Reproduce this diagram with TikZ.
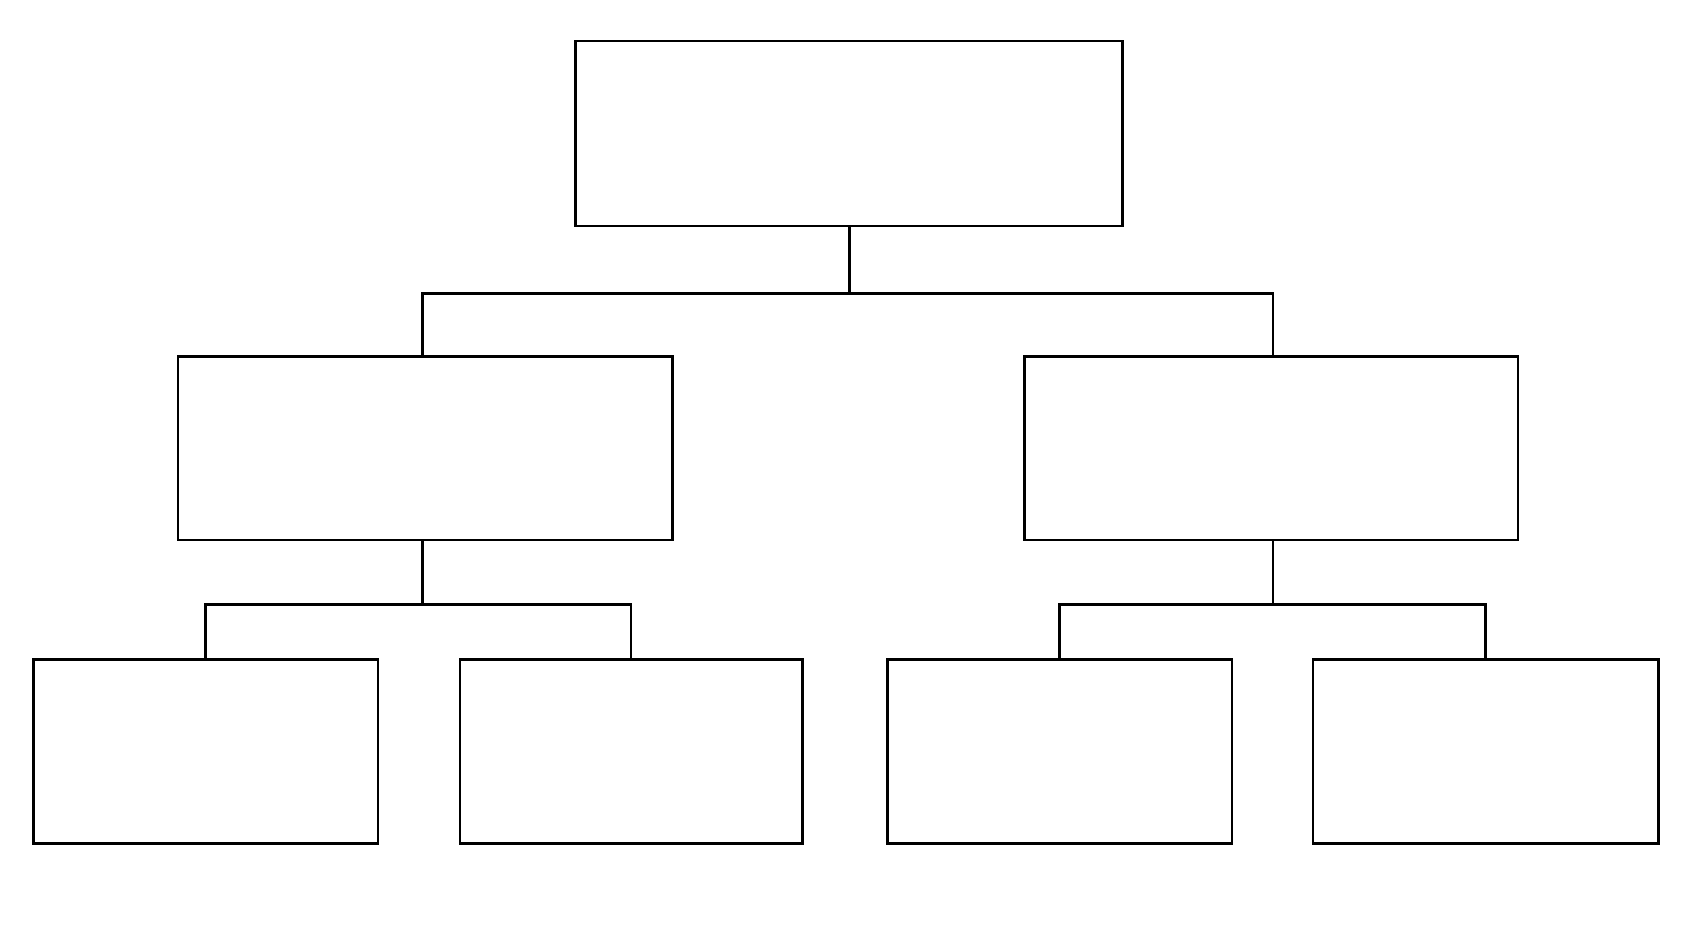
\documentclass[tikz,border=0pt]{standalone}
\begin{document}
\begin{tikzpicture}[x=1pt,y=-1pt,
  boxnode/.style={draw=black,line width=2.6pt,inner sep=0pt,fill=white},
  link/.style={draw=black,line width=2.6pt}]
\useasboundingbox (0,0) rectangle (1693,929);
\node[boxnode,minimum width=547pt,minimum height=185pt] (top) at (849.2,133.4) {};
\node[boxnode,minimum width=494.6pt,minimum height=183.6pt] (ml) at (425.4,448.1) {};
\node[boxnode,minimum width=493.5pt,minimum height=183.6pt] (mr) at (1271.4,448.1) {};
\node[boxnode,minimum width=344.4pt,minimum height=184pt] (b1) at (205.7,751.7) {};
\node[boxnode,minimum width=342.2pt,minimum height=184pt] (b2) at (631.1,751.7) {};
\node[boxnode,minimum width=344.4pt,minimum height=184pt] (b3) at (1059.7,751.7) {};
\node[boxnode,minimum width=345.5pt,minimum height=184pt] (b4) at (1485.6,751.7) {};
\coordinate (bus1) at (849.2,293.7);
\coordinate (bus2) at (0,604.6);
\coordinate (mlc) at ([xshift=-3.2pt]ml.south);
\coordinate (mrc) at ([xshift=1.6pt]mr.south);
\coordinate (mln) at ([xshift=-3.2pt]ml.north);
\coordinate (mrn) at ([xshift=1.6pt]mr.north);
\draw[link] (top.south) -- (bus1) -| (mln);
\draw[link] (bus1) -| (mrn);
\draw[link] (mlc) -- (mlc |- bus2) -| (b1.north);
\draw[link] (mlc |- bus2) -| (b2.north);
\draw[link] (mrc) -- (mrc |- bus2) -| (b3.north);
\draw[link] (mrc |- bus2) -| (b4.north);
\end{tikzpicture}
\end{document}
